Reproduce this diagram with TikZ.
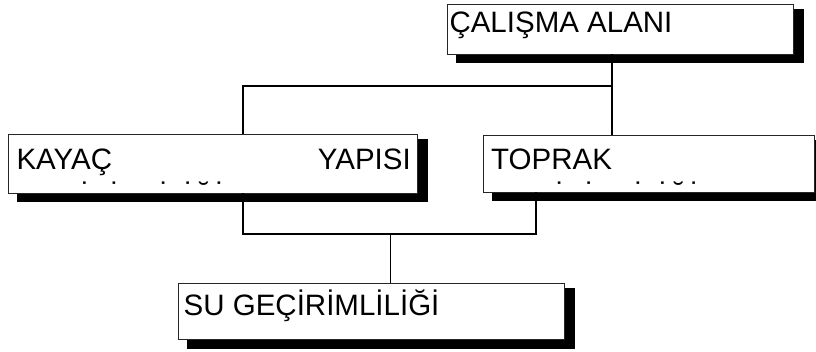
\documentclass[tikz,border=0pt]{standalone}
\usepackage{fontspec}
\setmainfont{Liberation Sans}
\begin{document}
\begin{tikzpicture}[x=1pt,y=-1pt,
  box/.style={draw=black!85,line width=0.9pt,fill=white,inner sep=0pt,rectangle},
  lbl/.style={inner sep=0pt,anchor=base west,font=\fontsize{29.5}{34}\selectfont},
  lble/.style={inner sep=0pt,anchor=base east,font=\fontsize{29.5}{34}\selectfont},
  conn/.style={draw=black,line width=1.3pt}]
\useasboundingbox (0,0) rectangle (816,352);
% shadows
\fill[black] (455.5,9) rectangle (804,63.5);
\fill[black] (16.5,139) rectangle (428,202.5);
\fill[black] (491.5,140) rectangle (825,201.5);
\fill[black] (186.5,288) rectangle (575,348.5);
% boxes
\node[box,minimum width=346pt,minimum height=50pt] (cal) at (620,29) {};
\node[box,minimum width=409pt,minimum height=59pt] (kay) at (212.5,163.5) {};
\node[box,minimum width=331pt,minimum height=57pt] (top) at (648.5,163.5) {};
\node[box,minimum width=386pt,minimum height=56pt] (su) at (371,311) {};
% texts
\node[lbl] (calT) at (449.3,33) {ÇALIŞMA ALANI};
\node[lbl] (kayT1) at (16.3,170) {KAYAÇ};
\node[lble] (kayT2) at (411,170) {YAPISI};
\node[lbl] (topT) at (491,170) {TOPRAK};
\node[lbl] (suT) at (183.5,316) {SU GEÇİRİMLİLİĞİ};
\begin{scope}
\clip (8,134) rectangle (417,185.0);
\node[lbl] (kayT3) at (16.3,208) {GEÇİRİMLİLİĞİ};
\end{scope}
\begin{scope}
\clip (483,135) rectangle (814,184.6);
\node[lbl] (topT2) at (491,207.5) {GEÇİRİMLİLİĞİ};
\end{scope}
% connectors
\coordinate (j1) at (612,86);
\coordinate (j2) at (243,86);
\coordinate (j3) at (243,234);
\coordinate (j4) at (536,234);
\coordinate (j5) at (390.5,234);
\draw[conn] (cal.south -| j1) -- (j1) -- (j2) -- (kay.north -| j2);
\draw[conn] (j1) -- (top.north -| j1);
\draw[conn] (kay.south -| j3) -- (j3) -- (j4) -- (top.south -| j4);
\draw[conn] (j5) -- (su.north -| j5);
\end{tikzpicture}
\end{document}
